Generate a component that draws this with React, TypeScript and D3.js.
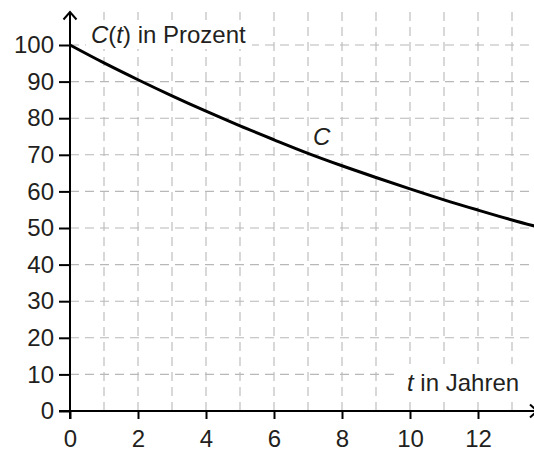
import React, { useEffect, useRef } from "react";
// @ts-ignore
import * as d3 from "d3";

// C(t) in percent at each year
const tYears = [0, 1, 2, 3, 4, 5, 6, 7, 8, 9, 10, 11, 12, 13, 14];
const cPercent = [100, 95.1, 90.5, 86.1, 81.9, 77.9, 74.1, 70.4, 67.0, 63.8, 60.7, 57.7, 54.9, 52.2, 49.7];

const xTicks = [0, 2, 4, 6, 8, 10, 12];
const yTicks = [0, 10, 20, 30, 40, 50, 60, 70, 80, 90, 100];
const xGrid = [1, 2, 3, 4, 5, 6, 7, 8, 9, 10, 11, 12, 13];
const yGrid = [10, 20, 30, 40, 50, 60, 70, 80, 90, 100];

const W = 534;
const H = 452;
const FONT = "'Liberation Sans', Arial, Helvetica, sans-serif";
const INK = "#231f20";
const FS = "24px";

const App = () => {
    const ref = useRef<SVGSVGElement>(null);

    useEffect(() => {
        const svg = d3.select(ref.current);
        svg.selectAll("*").remove();

        const x = d3.scaleLinear().domain([0, 12]).range([70, 478]);
        const y = d3.scaleLinear().domain([0, 100]).range([411, 45]);
        const yTop = 12; // top of the y axis arrow

        // grid
        const grid = svg.append("g").attr("stroke", "#b8b8b8").attr("stroke-width", 1.1).attr("stroke-dasharray", "9,6");
        grid.selectAll("line.v")
            .data(xGrid)
            .enter()
            .append("line")
            .attr("x1", (d) => x(d))
            .attr("x2", (d) => x(d))
            .attr("y1", yTop)
            .attr("y2", y(0));
        grid.selectAll("line.h")
            .data(yGrid)
            .enter()
            .append("line")
            .attr("x1", x(0))
            .attr("x2", 531)
            .attr("y1", (d) => y(d))
            .attr("y2", (d) => y(d));

        // white boxes behind the axis titles
        svg.append("rect").attr("x", 86).attr("y", 20).attr("width", 166).attr("height", 29).attr("fill", "#fff");
        svg.append("rect").attr("x", 400).attr("y", 364).attr("width", 134).attr("height", 36).attr("fill", "#fff");

        // curve
        const line = d3
            .line()
            // @ts-ignore
            .x((d) => x(d[0]))
            // @ts-ignore
            .y((d) => y(d[1]))
            .curve(d3.curveMonotoneX);
        svg.append("path")
            // @ts-ignore
            .attr("d", line(tYears.map((t, i) => [t, cPercent[i]])))
            .attr("fill", "none")
            .attr("stroke", "#000")
            .attr("stroke-width", 3);

        // axes
        const yAxis = svg
            .append("g")
            .attr("transform", `translate(${x(0)},0)`)
            .call(d3.axisLeft(y).tickValues(yTicks).tickSize(11).tickPadding(5));
        const xAxis = svg
            .append("g")
            .attr("transform", `translate(0,${y(0)})`)
            .call(d3.axisBottom(x).tickValues(xTicks).tickSize(8).tickPadding(11));
        [yAxis, xAxis].forEach((a) => {
            a.select(".domain").remove();
            a.selectAll("line").attr("stroke", "#000").attr("stroke-width", 2);
            a.selectAll("text").attr("fill", INK).style("font-family", FONT).style("font-size", FS);
        });

        const axes = svg.append("g").attr("stroke", "#000").attr("stroke-width", 2).attr("fill", "none");
        axes.append("line").attr("x1", x(0)).attr("x2", x(0)).attr("y1", yTop).attr("y2", y(0) + 8);
        axes.append("line").attr("x1", x(0) - 11).attr("x2", 537).attr("y1", y(0)).attr("y2", y(0));
        axes.append("path").attr("d", `M${x(0) - 6.5},${yTop + 7.5}L${x(0)},${yTop}L${x(0) + 6.5},${yTop + 7.5}`);
        axes.append("path").attr("d", `M530,${y(0) - 6.5}L537,${y(0)}L530,${y(0) + 6.5}`);

        // labels
        const yTitle = svg.append("text").attr("x", 91).attr("y", 43).attr("fill", INK).style("font-family", FONT).style("font-size", FS);
        yTitle.append("tspan").attr("font-style", "italic").text("C");
        yTitle.append("tspan").text("(");
        yTitle.append("tspan").attr("font-style", "italic").text("t");
        yTitle.append("tspan").text(") in Prozent");

        const xTitle = svg.append("text").attr("x", 407).attr("y", 391).attr("fill", INK).style("font-family", FONT).style("font-size", FS);
        xTitle.append("tspan").attr("font-style", "italic").text("t");
        xTitle.append("tspan").text(" in Jahren");

        svg.append("text")
            .attr("x", 313)
            .attr("y", 145)
            .attr("fill", INK)
            .attr("font-style", "italic")
            .style("font-family", FONT)
            .style("font-size", FS)
            .text("C");
    }, []);

    return <svg ref={ref} width={W} height={H} style={{ position: "absolute", left: 0, top: 0, background: "#fff" }} />;
};

export default App;
